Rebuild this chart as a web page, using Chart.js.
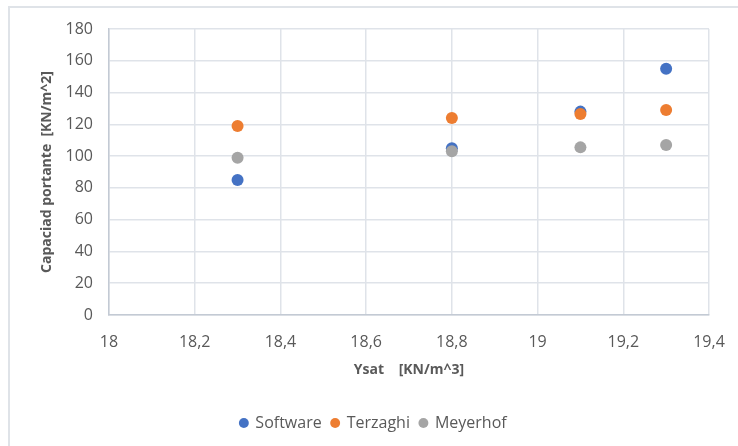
<!DOCTYPE html>
<html lang="es">
<head>
  <meta charset="UTF-8" />
  <title>Capacidad portante vs Ysat</title>
  <script src="https://cdn.jsdelivr.net/npm/chart.js"></script>
  <style>
    body { margin: 0; background: #fff; }
    #wrap { position: relative; width: 738px; height: 446px; overflow: hidden; }
    #frame { position: absolute; left: 8px; top: 6px; right: -10px; bottom: -10px;
             border-left: 2px solid #dfe3e8; border-top: 2px solid #dfe3e8; }
    #box { position: absolute; left: 0; top: 0; width: 738px; height: 446px; }
  </style>
</head>
<body>
<div id="wrap">
  <div id="frame"></div>
  <div id="box"><canvas id="chart"></canvas></div>
</div>

<script>
const ysat = [18.3, 18.8, 19.1, 19.3];
const software = [85, 105, 128, 155];
const terzaghi = [119, 124, 126.5, 129];
const meyerhof = [99, 103, 105.5, 107];
const xTickLabels = ['18', '18,2', '18,4', '18,6', '18,8', '19', '19,2', '19,4'];

const gridColor = '#dfe3e9';
const axisColor = '#c3cad4';
const textColor = '#595959';
const fontFamily = "'Open Sans', 'Noto Sans', sans-serif";

function points(values) {
  return ysat.map((x, i) => ({ x: x, y: values[i] }));
}

function series(label, values, color, order) {
  return {
    label: label,
    data: points(values),
    backgroundColor: color,
    borderColor: color,
    pointRadius: 6,
    pointHoverRadius: 6,
    borderWidth: 0,
    order: order
  };
}

const ctx = document.getElementById('chart').getContext('2d');
new Chart(ctx, {
  type: 'scatter',
  data: {
    datasets: [
      series('Software', software, '#4472c4', 3),
      series('Terzaghi', terzaghi, '#ed7d31', 2),
      series('Meyerhof', meyerhof, '#a5a5a5', 1)
    ]
  },
  options: {
    responsive: true,
    maintainAspectRatio: false,
    animation: false,
    layout: { padding: { top: 29, right: 29, left: 38, bottom: 5 } },
    plugins: {
      tooltip: { enabled: false },
      legend: {
        position: 'bottom',
        labels: {
          usePointStyle: true,
          boxWidth: 7,
          boxHeight: 7,
          padding: 10,
          color: textColor,
          font: { family: fontFamily, size: 16 },
          sort: (a, b) => a.datasetIndex - b.datasetIndex
        }
      }
    },
    scales: {
      x: {
        type: 'linear',
        min: 18,
        max: 19.4,
        afterFit: s => { s.height = 90; },
        ticks: {
          stepSize: 0.2,
          padding: 4,
          color: textColor,
          font: { family: fontFamily, size: 16 },
          callback: (v, i) => xTickLabels[i]
        },
        grid: { color: gridColor, lineWidth: 1.5, tickLength: 14, tickColor: 'transparent' },
        border: { color: axisColor, width: 1.5 },
        title: {
          display: true,
          text: 'Ysat    [KN/m^3]',
          color: textColor,
          font: { family: fontFamily, size: 14, weight: 'bold' },
          padding: { top: 0, bottom: 27 }
        }
      },
      y: {
        min: 0,
        max: 180,
        afterFit: s => { s.width = 71; },
        ticks: {
          stepSize: 20,
          padding: 16,
          color: textColor,
          font: { family: fontFamily, size: 16 }
        },
        grid: { color: gridColor, lineWidth: 1.5, drawTicks: false },
        border: { color: axisColor, width: 1.5 },
        title: {
          display: true,
          text: 'Capaciad portante  [KN/m^2]',
          color: textColor,
          font: { family: fontFamily, size: 14, weight: 'bold' },
          padding: { top: 1, bottom: 0 }
        }
      }
    }
  }
});
</script>
</body>
</html>
